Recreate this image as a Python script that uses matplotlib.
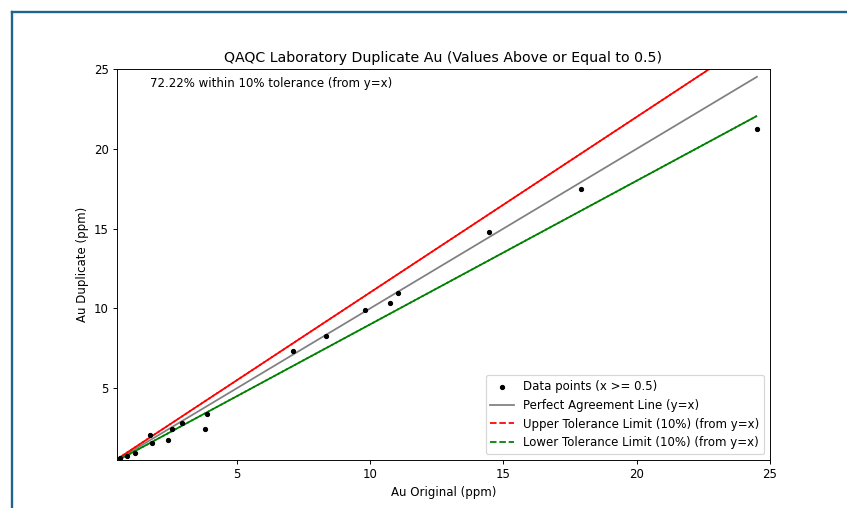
import matplotlib
matplotlib.use("Agg")
import matplotlib.pyplot as plt
import numpy as np
from matplotlib.lines import Line2D

au_original = [24.51, 17.91, 14.45, 11.04, 10.75, 9.81, 8.35, 7.11, 3.88, 3.81,
               2.94, 2.56, 2.40, 1.81, 1.75, 1.19, 0.88, 0.63]
au_duplicate = [21.26, 17.49, 14.80, 10.94, 10.35, 9.92, 8.26, 7.32, 3.40, 2.42,
                2.84, 2.43, 1.78, 1.58, 2.09, 0.93, 0.73, 0.62]
tolerance = 0.10
annotation = "72.22% within 10% tolerance (from y=x)"

x = np.array(au_original)
y = np.array(au_duplicate)

fig = plt.figure(figsize=(10, 508 / 84.7), dpi=84.7)
ax = fig.add_axes([0.1381, 0.0945, 0.7710, 0.7697])

ax.scatter(x, y, s=12, color="black", label="Data points (x >= 0.5)", zorder=3)
ax.plot(x, x, color="gray", linestyle="-", label="Perfect Agreement Line (y=x)")
ax.plot(x, x * (1 + tolerance), color="red", linestyle="--",
        label="Upper Tolerance Limit (10%) (from y=x)")
ax.plot(x, x * (1 + tolerance), color="red", linestyle=(2.65, (3.7, 1.6)))
ax.plot(x, x * (1 - tolerance), color="green", linestyle="--",
        label="Lower Tolerance Limit (10%) (from y=x)")
ax.plot(x, x * (1 - tolerance), color="green", linestyle=(2.65, (3.7, 1.6)))

ax.set_xlim(0.5, 25)
ax.set_ylim(0.5, 25)
ax.set_xticks([5, 10, 15, 20, 25])
ax.set_yticks([5, 10, 15, 20, 25])
ax.set_xlabel("Au Original (ppm)")
ax.set_ylabel("Au Duplicate (ppm)")
ax.set_title("QAQC Laboratory Duplicate Au (Values Above or Equal to 0.5)")
ax.text(0.05, 0.98, annotation, transform=ax.transAxes, va="top")
ax.legend(loc="lower right")

w, h = 847, 508
x0 = 12 / w
y0 = 1 - 12 / h
fig.add_artist(Line2D([x0, x0], [0, y0], transform=fig.transFigure, color="#1f6391", linewidth=2))
fig.add_artist(Line2D([x0, 1], [y0, y0], transform=fig.transFigure, color="#1f6391", linewidth=2))

fig.savefig("out.png", dpi=84.7)
